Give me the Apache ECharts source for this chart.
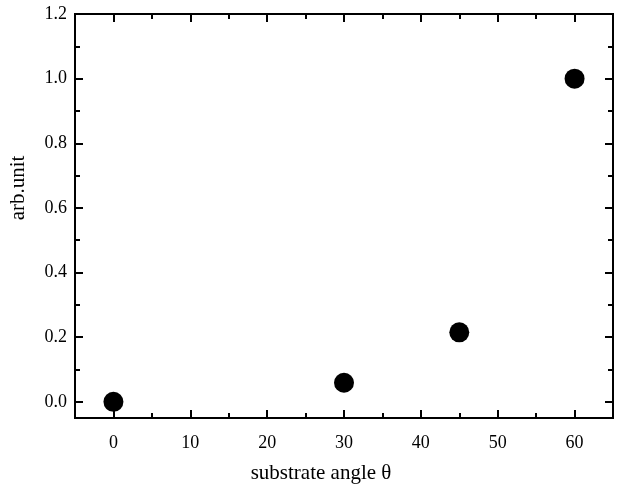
<!DOCTYPE html>
<html>
<head>
<meta charset="utf-8">
<script src="https://cdn.jsdelivr.net/npm/echarts@6/dist/echarts.min.js"></script>
<style>
  html, body { margin: 0; padding: 0; background: #fff; }
  #chart { width: 618px; height: 490px; }
</style>
</head>
<body>
<div id="chart"></div>
<script>
    // substrate angle (deg) vs. normalised signal
    var angles = [0, 30, 45, 60];
    var values = [0.0, 0.059, 0.215, 1.0];

    var xMajor = [0, 10, 20, 30, 40, 50, 60];
    var xMinor = [5, 15, 25, 35, 45, 55];
    var yMajor = [0, 0.2, 0.4, 0.6, 0.8, 1.0, 1.2];
    var yMinor = [0.1, 0.3, 0.5, 0.7, 0.9, 1.1];

    var xName = 'substrate angle \u03b8';
    var yName = 'arb.unit';

    var fontFam = '"Liberation Serif", "DejaVu Serif", serif';

    // one frame side; major axes carry labels, minor ones only short ticks
    function frameAxis(pos, isX, ticks, tickLen, labels) {
        return {
            type: 'value',
            position: pos,
            min: isX ? -5 : -0.05,
            max: isX ? 65 : 1.2,
            splitLine: { show: false },
            axisLine: { show: true, onZero: false, lineStyle: { color: '#000', width: 2 } },
            axisTick: {
                show: true, inside: true, length: tickLen,
                customValues: ticks,
                lineStyle: { color: '#000', width: 2 }
            },
            axisLabel: {
                show: labels,
                customValues: ticks,
                color: '#000',
                fontFamily: fontFam,
                fontSize: 18,
                margin: isX ? 16 : 8,
                formatter: function (v) {
                    return isX ? String(Math.round(v)) : v.toFixed(1);
                }
            }
        };
    }

    var xBottom = frameAxis('bottom', true, xMajor, 8, true);
    xBottom.name = xName;
    xBottom.nameLocation = 'middle';
    xBottom.nameGap = 45;
    xBottom.nameTextStyle = { color: '#000', fontFamily: fontFam, fontSize: 21, padding: [0, 46, 0, 0] };

    var yLeft = frameAxis('left', false, yMajor, 8, true);
    yLeft.name = yName;
    yLeft.nameLocation = 'middle';
    yLeft.nameGap = 46;
    yLeft.nameTextStyle = { color: '#000', fontFamily: fontFam, fontSize: 21, padding: [0, 0, 0, 56] };

    var myChart = echarts.init(document.getElementById('chart'), null, { renderer: 'canvas' });
    var option = {
        animation: false,
        backgroundColor: '#fff',
        grid: { left: 73, right: 5, top: 14, bottom: 72 },
        xAxis: [
            xBottom,
            frameAxis('bottom', true, xMinor, 5, false),
            frameAxis('top', true, xMajor, 8, false),
            frameAxis('top', true, xMinor, 5, false)
        ],
        yAxis: [
            yLeft,
            frameAxis('left', false, yMinor, 5, false),
            frameAxis('right', false, yMajor, 8, false),
            frameAxis('right', false, yMinor, 5, false)
        ],
        series: [
            {
                type: 'scatter',
                xAxisIndex: 0,
                yAxisIndex: 0,
                symbol: 'circle',
                symbolSize: 20,
                itemStyle: { color: '#000', opacity: 1 },
                data: angles.map(function (a, i) { return [a, values[i]]; })
            }
        ]
    };
    myChart.setOption(option);
</script>
</body>
</html>
